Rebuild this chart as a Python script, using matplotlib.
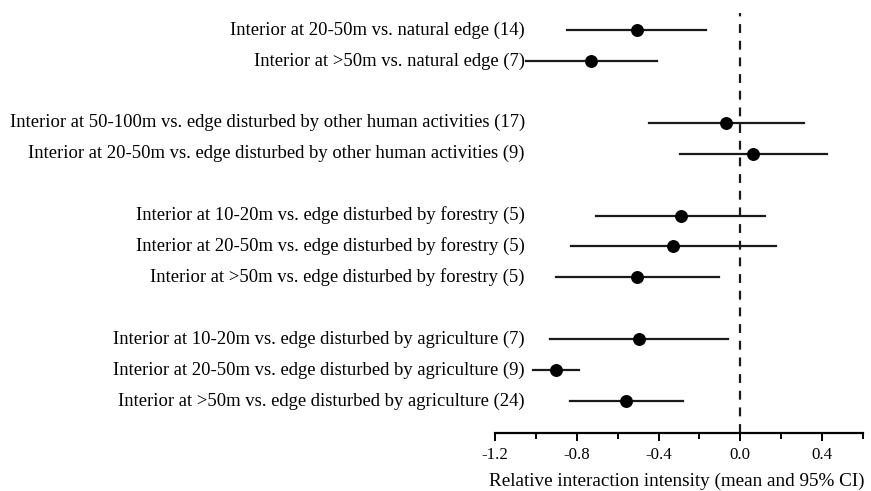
import matplotlib
matplotlib.use("Agg")
import matplotlib.pyplot as plt
from matplotlib.ticker import FixedLocator
import matplotlib.transforms as mtransforms

labels = [
    "Interior at 20-50m vs. natural edge (14)",
    "Interior at >50m vs. natural edge (7)",
    "Interior at 50-100m vs. edge disturbed by other human activities (17)",
    "Interior at 20-50m vs. edge disturbed by other human activities (9)",
    "Interior at 10-20m vs. edge disturbed by forestry (5)",
    "Interior at 20-50m vs. edge disturbed by forestry (5)",
    "Interior at >50m vs. edge disturbed by forestry (5)",
    "Interior at 10-20m vs. edge disturbed by agriculture (7)",
    "Interior at 20-50m vs. edge disturbed by agriculture (9)",
    "Interior at >50m vs. edge disturbed by agriculture (24)",
]
means = [-0.506, -0.728, -0.070, 0.060, -0.292, -0.331, -0.506, -0.495, -0.900, -0.559]
lower = [-0.848, -1.049, -0.446, -0.297, -0.705, -0.830, -0.900, -0.929, -1.012, -0.832]
upper = [-0.170, -0.409, 0.313, 0.423, 0.122, 0.175, -0.106, -0.060, -0.790, -0.282]
positions = [0, 1, 3, 4, 6, 7, 8, 10, 11, 12]
xticks = [-1.2, -0.8, -0.4, 0.0, 0.4]
xlabel = "Relative interaction intensity (mean and 95% CI)"

plt.rcParams['font.family'] = ['Liberation Serif', 'DejaVu Serif']

fig = plt.figure(figsize=(8.71, 4.91), dpi=100)
ax = fig.add_axes([495/871, 1-433/491, (863-495)/871, (433-13)/491])

for p, m, lo, hi in zip(positions, means, lower, upper):
    ax.plot([lo, hi], [p, p], color='#1a1a1a', lw=1.6, zorder=2)
ax.plot(means, positions, 'o', color='black', ms=8.3, zorder=3)

ax.axvline(0, color='#1a1a1a', lw=1.6, ls=(0, (4, 3.5)), zorder=1)

ax.set_xlim(-1.2, 0.6)
ax.set_ylim(12 + 1.035, -0.55)
ax.xaxis.set_major_locator(FixedLocator(xticks))
ax.xaxis.set_minor_locator(FixedLocator([-1.0, -0.6, -0.2, 0.2, 0.6]))
ax.set_xticklabels([f"{t:.1f}" for t in xticks], fontsize=12.2)
ax.tick_params(axis='x', which='major', length=6, width=1.4, direction='out', pad=4)
ax.tick_params(axis='x', which='minor', length=4, width=1.4, direction='out')
ax.set_yticks([])
for s in ['top', 'right', 'left']:
    ax.spines[s].set_visible(False)
ax.spines['bottom'].set_linewidth(1.6)
ax.set_xlabel(xlabel, fontsize=13.8, labelpad=7)
ax.xaxis.set_label_coords(0.494, -0.095)

trans = mtransforms.blended_transform_factory(ax.transAxes, ax.transData)
xt = (525 - 495) / (863 - 495)
for p, lab in zip(positions, labels):
    ax.text(xt, p, lab, transform=trans, ha='right', va='center', fontsize=13.4)

fig.savefig("out.png", dpi=100)
